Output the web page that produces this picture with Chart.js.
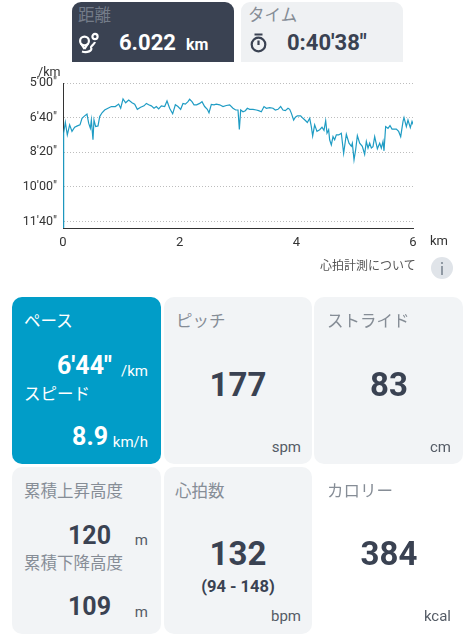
<!DOCTYPE html>
<html lang="ja">
<head>
<meta charset="utf-8">
<title>ラン記録</title>
<script src="https://cdn.jsdelivr.net/npm/chart.js@4/dist/chart.umd.min.js"></script>
<style>
  html, body { margin: 0; padding: 0; background: #fff; }
  body { position: relative; width: 475px; height: 640px; overflow: hidden;
         font-family: Roboto, "Noto Sans CJK JP", sans-serif; }
  .card { position: absolute; background: #f2f4f6; border-radius: 10px; }
  .txt { position: absolute; white-space: nowrap; line-height: 1; transform: translateY(-50%); }
  #chartBox { position: absolute; left: 0; top: 60px; width: 475px; height: 190px; }
  svg { position: absolute; }
</style>
</head>
<body>
<div class="card" style="left:72px;top:2px;width:162px;height:60px;background:#3a4252;border-radius:9px 9px 0 0"></div>
<div class="card" style="left:241px;top:2px;width:162px;height:60px;background:#eff1f3;border-radius:9px 9px 0 0"></div>
<div class="card" style="left:12px;top:297px;width:149px;height:167px;background:#019dc8"></div>
<div class="card" style="left:164px;top:297px;width:148px;height:167px"></div>
<div class="card" style="left:314px;top:297px;width:149px;height:167px"></div>
<div class="card" style="left:12px;top:467px;width:149px;height:167px"></div>
<div class="card" style="left:164px;top:467px;width:148px;height:167px"></div>

<svg style="left:78px;top:32px" width="22" height="22" viewBox="0 0 22 22" fill="none" stroke="#fff" stroke-width="2.2">
  <circle cx="6.5" cy="9" r="4.4"/>
  <path d="M6.5 17 L3 11.5 M6.5 17 L10 11.5"/>
  <circle cx="17" cy="4.5" r="2.6"/>
  <path d="M4 19.5 C9 21 15 19 13 15.5 C12.5 14 16 13 17 10"/>
</svg>
<svg style="left:249px;top:33px" width="19" height="20" viewBox="0 0 19 20" fill="none" stroke="#3a4252" stroke-width="2.2">
  <circle cx="9.5" cy="11.5" r="6.8"/>
  <path d="M5.5 1.5 H13.5 M9.5 7.5 V12"/>
</svg>
<svg style="left:431px;top:257px" width="22" height="22" viewBox="0 0 22 22">
  <circle cx="11" cy="11" r="11" fill="#e0e4e9"/>
  <rect x="10.2" y="9" width="1.6" height="9" fill="#7d8792"/>
  <circle cx="11" cy="6" r="1.1" fill="#7d8792"/>
</svg>

<div id="chartBox"><canvas id="paceChart" width="475" height="190"></canvas></div>

<script>
// distance (km) / pace (sec per km)
const distances = [
  0, 0.011, 0.04, 0.074, 0.114, 0.154, 0.2, 0.246, 0.291, 0.326, 0.371, 0.411, 0.44, 0.469, 0.486, 0.514,
  0.531, 0.56, 0.6, 0.629, 0.669, 0.714, 0.771, 0.829, 0.897, 0.954, 0.989, 1.029, 1.074, 1.126, 1.183,
  1.229, 1.274, 1.331, 1.389, 1.429, 1.469, 1.514, 1.56, 1.6, 1.64, 1.686, 1.743, 1.783, 1.828, 1.88,
  1.926, 1.971, 2.017, 2.057, 2.097, 2.143, 2.171, 2.211, 2.246, 2.291, 2.343, 2.383, 2.428, 2.474,
  2.503, 2.543, 2.588, 2.628, 2.686, 2.743, 2.8, 2.857, 2.914, 2.96, 3.0, 3.023, 3.046, 3.086, 3.126,
  3.16, 3.2, 3.257, 3.314, 3.354, 3.4, 3.446, 3.486, 3.543, 3.6, 3.64, 3.686, 3.731, 3.771, 3.811,
  3.857, 3.886, 3.914, 3.954, 3.983, 4.017, 4.074, 4.114, 4.16, 4.189, 4.229, 4.257, 4.28, 4.314,
  4.354, 4.4, 4.44, 4.474, 4.503, 4.526, 4.554, 4.571, 4.6, 4.629, 4.657, 4.686, 4.726, 4.771, 4.811,
  4.857, 4.903, 4.943, 4.96, 4.989, 5.017, 5.046, 5.086, 5.131, 5.171, 5.2, 5.229, 5.257, 5.286, 5.314,
  5.343, 5.389, 5.429, 5.457, 5.486, 5.503, 5.531, 5.571, 5.606, 5.64, 5.714, 5.754, 5.789, 5.829,
  5.846, 5.886, 5.914, 5.954, 5.983, 6.006
];
const paces = [
  719, 445, 414, 450, 421, 440, 428, 424, 421, 402, 395, 390, 416, 431, 407, 464,
  407, 426, 424, 397, 386, 378, 373, 368, 368, 361, 373, 346, 357, 349, 357,
  361, 376, 370, 366, 359, 363, 366, 373, 368, 375, 366, 368, 352, 373, 389,
  363, 368, 376, 359, 361, 354, 347, 354, 363, 363, 359, 354, 368, 376,
  386, 362, 363, 361, 363, 368, 365, 363, 373, 378, 378, 434, 378, 383, 380,
  373, 376, 376, 378, 380, 383, 368, 373, 371, 373, 378, 376, 368, 378, 380,
  373, 376, 387, 407, 399, 395, 395, 402, 409, 414, 402, 426, 453, 421,
  440, 435, 428, 437, 409, 445, 435, 464, 479, 455, 464, 450, 450, 445, 503,
  448, 474, 483, 474, 522, 493, 452, 474, 483, 506, 469, 488, 474, 488, 484,
  455, 490, 474, 488, 469, 496, 426, 431, 423, 433, 433, 440, 455, 411,
  400, 426, 407, 429, 411, 421
];
const paceTickLabels = { 300: "5'00\"", 400: "6'40\"", 500: "8'20\"", 600: "10'00\"", 700: "11'40\"" };

const dark = '#3a4252';
const gray = '#868d96';

// [text, left or right or center, y center, size, weight, colour, anchor]
const texts = [
  ['距離', 78, 16, 16.5, 400, '#747c89', 'l'],
  ['6.022', 119, 43, 22, 700, '#fff', 'l'],
  ['km', 186, 45, 16, 700, '#fff', 'l'],
  ['タイム', 248, 16, 16.5, 400, gray, 'l'],
  ["0:40'38\"", 287, 43, 22, 700, dark, 'l'],
  ['/km', 38, 72, 12.5, 400, '#333', 'l'],
  ['km', 430, 240, 13, 400, '#333', 'l'],
  ['心拍計測について', 320, 266, 12, 400, '#555', 'l'],
  ['ペース', 24, 322, 16.5, 400, '#fff', 'l'],
  ["6'44\"", 112, 365, 25, 700, '#fff', 'r'],
  ['/km', 148, 371, 15, 400, '#fff', 'r'],
  ['スピード', 24, 395, 16.5, 400, '#fff', 'l'],
  ['8.9', 108, 436, 25, 700, '#fff', 'r'],
  ['km/h', 148, 442, 15, 400, '#fff', 'r'],
  ['ピッチ', 176, 322, 16.5, 400, gray, 'l'],
  ['177', 238, 384, 33, 700, dark, 'c'],
  ['spm', 301, 447, 15, 400, '#555c66', 'r'],
  ['ストライド', 327, 322, 16.5, 400, gray, 'l'],
  ['83', 389, 384, 33, 700, dark, 'c'],
  ['cm', 451, 447, 15, 400, '#555c66', 'r'],
  ['累積上昇高度', 24, 492, 16.5, 400, gray, 'l'],
  ['120', 111, 535, 25, 700, dark, 'r'],
  ['m', 148, 540, 15, 400, '#555c66', 'r'],
  ['累積下降高度', 24, 564, 16.5, 400, gray, 'l'],
  ['109', 111, 606, 25, 700, dark, 'r'],
  ['m', 148, 612, 15, 400, '#555c66', 'r'],
  ['心拍数', 175, 492, 16.5, 400, gray, 'l'],
  ['132', 238, 553, 33, 700, dark, 'c'],
  ['(94 - 148)', 238, 587, 16.5, 700, dark, 'c'],
  ['bpm', 301, 616, 15, 400, '#555c66', 'r'],
  ['カロリー', 327, 492, 16.5, 400, gray, 'l'],
  ['384', 389, 553, 33, 700, dark, 'c'],
  ['kcal', 451, 616, 15, 400, '#555c66', 'r']
];

texts.forEach(([text, x, y, size, weight, color, anchor]) => {
  const el = document.createElement('div');
  el.className = 'txt';
  el.textContent = text;
  el.style.top = y + 'px';
  el.style.fontSize = size + 'px';
  el.style.fontWeight = weight;
  el.style.color = color;
  if (anchor === 'l') el.style.left = x + 'px';
  if (anchor === 'r') el.style.right = (475 - x) + 'px';
  if (anchor === 'c') {
    el.style.left = x + 'px';
    el.style.transform = 'translate(-50%, -50%)';
  }
  document.body.appendChild(el);
});

new Chart(document.getElementById('paceChart'), {
  type: 'line',
  data: {
    datasets: [{
      data: distances.map((d, i) => ({ x: d, y: paces[i] })),
      borderColor: '#1f9cc4',
      borderWidth: 1.2,
      pointRadius: 0,
      tension: 0,
    }],
  },
  options: {
    responsive: false,
    animation: false,
    layout: { padding: { top: 23, right: 62 } },
    plugins: { legend: { display: false }, tooltip: { enabled: false } },
    scales: {
      x: {
        type: 'linear',
        min: 0,
        max: 6,
        afterFit: (scale) => { scale.height = 22; },
        border: { color: '#333' },
        grid: { display: false },
        ticks: { stepSize: 2, maxRotation: 0, padding: -1, color: '#333', font: { family: 'Roboto', size: 13 } },
      },
      y: {
        reverse: true,
        min: 300,
        max: 719,
        afterFit: (scale) => { scale.width = 63; },
        border: { color: '#333', dash: [1, 2] },
        grid: { color: '#bdbdbd', drawTicks: false },
        ticks: {
          stepSize: 100,
          includeBounds: false,
          padding: 6,
          color: '#333',
          font: { family: 'Roboto', size: 12.5 },
          callback: (value) => paceTickLabels[value],
        },
      },
    },
  },
});
</script>
</body>
</html>
